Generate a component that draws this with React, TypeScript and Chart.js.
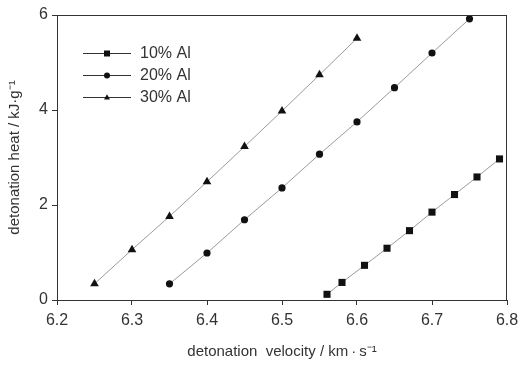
import React, { useEffect, useRef } from 'react';
import { Chart, registerables } from 'chart.js';

Chart.register(...registerables);

const seriesLabels = ['10% Al', '20% Al', '30% Al'];
const velocity10 = [6.56, 6.58, 6.61, 6.64, 6.67, 6.70, 6.73, 6.76, 6.79];
const heat10 = [0.12, 0.37, 0.73, 1.09, 1.46, 1.85, 2.22, 2.59, 2.97];
const velocity20 = [6.35, 6.40, 6.45, 6.50, 6.55, 6.60, 6.65, 6.70, 6.75];
const heat20 = [0.34, 0.99, 1.69, 2.36, 3.07, 3.75, 4.47, 5.20, 5.92];
const velocity30 = [6.25, 6.30, 6.35, 6.40, 6.45, 6.50, 6.55, 6.60];
const heat30 = [0.34, 1.06, 1.76, 2.49, 3.23, 3.98, 4.74, 5.51];
const pointStyles = ['rect', 'circle', 'triangle'];
const pointRadii = [5, 3.6, 5];
const xMin = 6.2, xMax = 6.8, xStep = 0.1;
const yMin = 0, yMax = 6, yStep = 2;
const xTitle = 'detonation  velocity / km\u2009\u00b7\u2009s\u207b\u00b9';
const yTitle = 'detonation heat / kJ\u00b7g\u207b\u00b9';

const FONT = '"Liberation Sans", Arial, sans-serif';
const INK = '#333';

function toPoints(xs: number[], ys: number[]) {
  return xs.map((x, i) => ({ x, y: ys[i] }));
}

function drawMarker(ctx: CanvasRenderingContext2D, style: string, x: number, y: number, r: number) {
  ctx.beginPath();
  if (style === 'rect') {
    ctx.rect(x - r, y - r, 2 * r, 2 * r);
  } else if (style === 'circle') {
    ctx.arc(x, y, r, 0, Math.PI * 2);
  } else {
    ctx.moveTo(x, y - r * 1.1);
    ctx.lineTo(x + r, y + r * 0.7);
    ctx.lineTo(x - r, y + r * 0.7);
    ctx.closePath();
  }
  ctx.fill();
}

const framePlugin = {
  id: 'frameAndLegend',
  afterDraw(chart: any) {
    const { ctx, chartArea } = chart;
    ctx.save();
    ctx.strokeStyle = INK;
    ctx.lineWidth = 1;
    ctx.strokeRect(Math.round(chartArea.left) + 0.5, Math.round(chartArea.top) + 0.5,
      Math.round(chartArea.right - chartArea.left) - 1, Math.round(chartArea.bottom - chartArea.top));
    // legend
    const x0 = chartArea.left + 26;
    const x1 = chartArea.left + 74;
    const rows = [53, 75, 97];
    chart.data.datasets.forEach((ds: any, i: number) => {
      const y = rows[i];
      ctx.strokeStyle = INK;
      ctx.lineWidth = 1;
      ctx.beginPath();
      ctx.moveTo(x0, y + 0.5);
      ctx.lineTo(x1, y + 0.5);
      ctx.stroke();
      ctx.fillStyle = '#111';
      drawMarker(ctx, pointStyles[i], (x0 + x1) / 2, y + 0.5, 3);
      ctx.fillStyle = INK;
      ctx.font = `16px ${FONT}`;
      ctx.textBaseline = 'middle';
      ctx.textAlign = 'left';
      ctx.fillText(ds.label, x1 + 9, y + 1);
    });
    ctx.restore();
  },
};

export default function App() {
  const ref = useRef<HTMLCanvasElement | null>(null);
  useEffect(() => {
    document.body.style.margin = '0';
    const canvas = ref.current;
    if (!canvas) return;
    const chart = new Chart(canvas, {
      type: 'scatter',
      data: {
        datasets: [
          { label: seriesLabels[0], data: toPoints(velocity10, heat10) },
          { label: seriesLabels[1], data: toPoints(velocity20, heat20) },
          { label: seriesLabels[2], data: toPoints(velocity30, heat30) },
        ].map((d, i) => ({
          ...d,
          showLine: true,
          borderColor: '#9a9a9a',
          borderWidth: 1,
          backgroundColor: '#111',
          pointBackgroundColor: '#111',
          pointBorderColor: '#111',
          pointBorderWidth: 0,
          pointStyle: pointStyles[i] as any,
          pointRadius: pointRadii[i],
        })),
      },
      options: {
        responsive: false,
        animation: false,
        layout: { padding: { top: 15, right: 14, left: 0, bottom: 0 } },
        plugins: { legend: { display: false }, tooltip: { enabled: false } },
        scales: {
          x: {
            type: 'linear',
            min: xMin,
            max: xMax,
            afterFit: (s: any) => { s.height = 65; s.paddingLeft = 0; s.paddingRight = 0; },
            ticks: {
              stepSize: xStep,
              color: INK,
              font: { family: FONT, size: 16 },
              padding: 6,
              callback: (v: any) => Number(v).toFixed(1),
            },
            grid: { drawOnChartArea: false, drawTicks: true, tickLength: 5, color: INK },
            border: { display: true, color: INK },
            title: {
              display: true,
              text: xTitle,
              color: INK,
              font: { family: FONT, size: 15 },
              padding: { top: 0, bottom: 4 },
            },
          },
          y: {
            type: 'linear',
            min: yMin,
            max: yMax,
            afterFit: (s: any) => { s.width = 57; s.paddingTop = 0; s.paddingBottom = 0; },
            ticks: {
              stepSize: yStep,
              color: INK,
              font: { family: FONT, size: 16 },
              padding: 4,
            },
            grid: { drawOnChartArea: false, drawTicks: true, tickLength: 5, color: INK },
            border: { display: true, color: INK },
            title: {
              display: true,
              text: yTitle,
              color: INK,
              font: { family: FONT, size: 15 },
              padding: { top: 6, bottom: 0 },
            },
          },
        },
      },
      plugins: [framePlugin],
    });
    return () => chart.destroy();
  }, []);
  return <canvas ref={ref} width={521} height={365} style={{ display: 'block' }} />;
}
